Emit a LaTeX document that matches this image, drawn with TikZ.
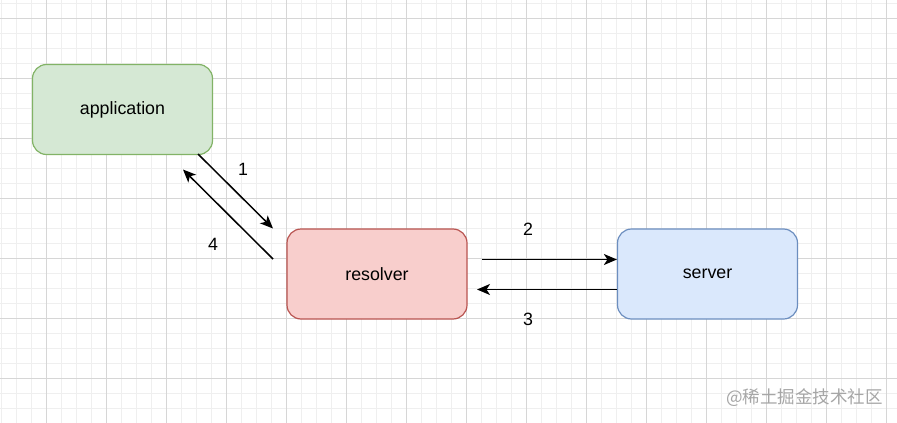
\documentclass[tikz,border=0pt]{standalone}
\usepackage{fontspec}
\setmainfont{Liberation Sans}
\newfontfamily\cjkfont{Noto Sans CJK SC}
\usetikzlibrary{arrows.meta}
\definecolor{gminor}{HTML}{EFEFEF}
\definecolor{gmajor}{HTML}{D6D6D6}
\definecolor{appfill}{HTML}{D5E8D4}
\definecolor{appline}{HTML}{82B366}
\definecolor{resfill}{HTML}{F8CECC}
\definecolor{resline}{HTML}{B85450}
\definecolor{srvfill}{HTML}{DAE8FC}
\definecolor{srvline}{HTML}{6C8EBF}
\definecolor{wmark}{HTML}{A6A6A6}
\tikzset{
  minorgrid/.style={draw=gminor, line width=1pt},
  majorgrid/.style={draw=gmajor, line width=1pt},
  box/.style={rounded corners=14pt, line width=1.2pt, minimum width=180pt, minimum height=90pt, inner sep=0pt, font=\fontsize{17.8}{20}\selectfont, text=black},
  conn/.style={line width=1.5pt, -{Stealth[length=13pt,width=11pt,inset=3.5pt]}},
  lbl/.style={font=\fontsize{17.8}{20}\selectfont, text=black, inner sep=0pt}
}
\begin{document}
\begin{tikzpicture}[x=1pt,y=-1pt]
\useasboundingbox (0,0) rectangle (897,423);
\fill[white] (0,0) rectangle (897,423);
\foreach \x in {1,16,...,896} \draw[minorgrid] (\x,0) -- (\x,423);
\foreach \y in {3,18,...,422} \draw[minorgrid] (0,\y) -- (897,\y);
\foreach \x in {46,106,...,896} \draw[majorgrid] (\x,0) -- (\x,423);
\foreach \y in {18,78,...,422} \draw[majorgrid] (0,\y) -- (897,\y);

\node[box, fill=appfill, draw=appline] (app) at (122.5,109.5) {application};
\node[box, fill=resfill, draw=resline] (res) at (377,274) {resolver};
\node[box, fill=srvfill, draw=srvline] (srv) at (707.5,274) {server};

\coordinate (a1s) at (198,154);
\coordinate (a1e) at (273,228.5);
\coordinate (a4s) at (273,259);
\coordinate (a4e) at (183,169.5);
\coordinate (a2s) at (482,259.5);
\coordinate (a3e) at (477,289.5);

\draw[conn] (a1s) -- (a1e);
\draw[conn] (a4s) -- (a4e);
\draw[conn] (a2s) -- (a2s -| srv.west);
\draw[conn] (a3e -| srv.west) -- (a3e);

\node[lbl] (l1) at (243,169) {1};
\node[lbl] (l4) at (213,244) {4};
\node[lbl] (l2) at (528,229) {2};
\node[lbl] (l3) at (528,319) {3};

\node[text=wmark, font=\cjkfont\fontsize{17.5}{20}\selectfont, inner sep=0pt, anchor=east] (wm) at (883,398) {@稀土掘金技术社区};
\end{tikzpicture}
\end{document}
